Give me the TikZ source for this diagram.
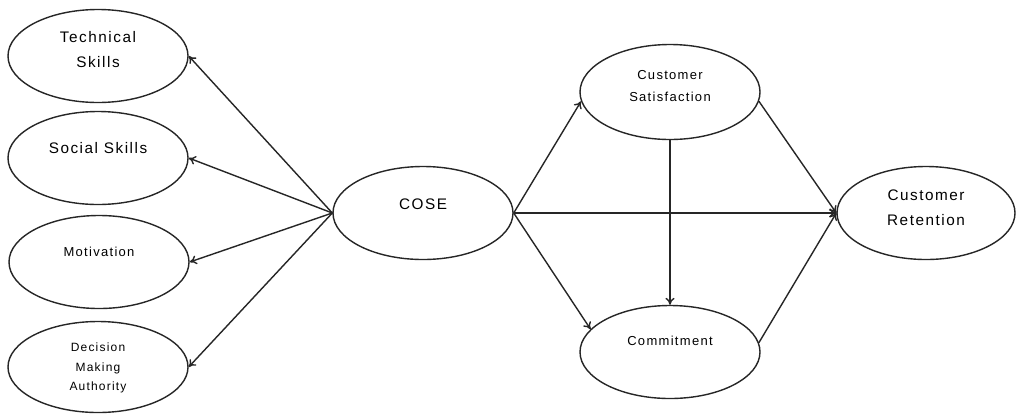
\documentclass[tikz,border=0pt]{standalone}
\usepackage{fontspec}
\usetikzlibrary{shapes.geometric,arrows.meta}
\newfontfamily\lblfont[LetterSpace=10]{Liberation Sans}
\definecolor{ink}{HTML}{262626}
\tikzset{
  oval/.style={ellipse, draw=ink, line width=1.4pt, minimum width=180pt, minimum height=93pt, inner sep=0pt},
  biglbl/.style={font=\lblfont\fontsize{15.3}{25}\selectfont, align=center, text=black},
  midlbl/.style={font=\lblfont\fontsize{13}{22}\selectfont, align=center, text=black},
  smalllbl/.style={font=\lblfont\fontsize{12}{19.5}\selectfont, align=center, text=black},
  link/.style={draw=ink, line width=1.4pt, -{To[length=7pt,width=9pt]}}
}
\begin{document}
\begin{tikzpicture}[x=1pt,y=-1pt]
  \useasboundingbox (0,0) rectangle (1016,413);
  \fill[white] (0,0) rectangle (1016,413);

  % left-hand constructs
  \node[oval] (tech) at (98,56) {};
  \node[oval] (soc)  at (98,158) {};
  \node[oval] (mot)  at (99,262) {};
  \node[oval, minimum height=91pt] (dec) at (98,367) {};

  % central and right-hand constructs
  \node[oval] (cose) at (423,213) {};
  \node[oval, minimum height=95pt] (cs)  at (670,92) {};
  \node[oval] (com)  at (670,352) {};
  \node[oval, minimum width=178pt] (ret) at (926,213) {};

  % labels
  \node[biglbl]   (techtxt) at (98,50)  {Technical\\Skills};
  \node[biglbl]   (soctxt)  at (98,148) {Social Skills};
  \node[midlbl]   (mottxt)  at (99,252) {Motivation};
  \node[smalllbl] (dectxt)  at (98,368) {Decision\\Making\\Authority};
  \node[biglbl]   (cosetxt) at (423,204) {COSE};
  \node[midlbl]   (cstxt)   at (670,86) {Customer\\Satisfaction};
  \node[midlbl]   (comtxt)  at (670,341) {Commitment};
  \node[biglbl]   (rettxt)  at (926,208) {Customer\\Retention};

  % paths from COSE to its dimensions
  \draw[link] (cose.west) -- (tech.east);
  \draw[link] (cose.west) -- (soc.east);
  \draw[link] (cose.west) -- (mot.east);
  \draw[link] (cose.west) -- (dec.east);

  % paths towards retention
  \draw[link] (cose.east) -- (cs.186);
  \draw[link] (cose.east) -- (com.164);
  \draw[link] (cose.east) -- (ret.west);
  \draw[link] (cs.south) -- (com.north);
  \draw[link] (cs.-6) -- (ret.west);
  \draw[link] (com.6) -- (ret.west);
\end{tikzpicture}
\end{document}
